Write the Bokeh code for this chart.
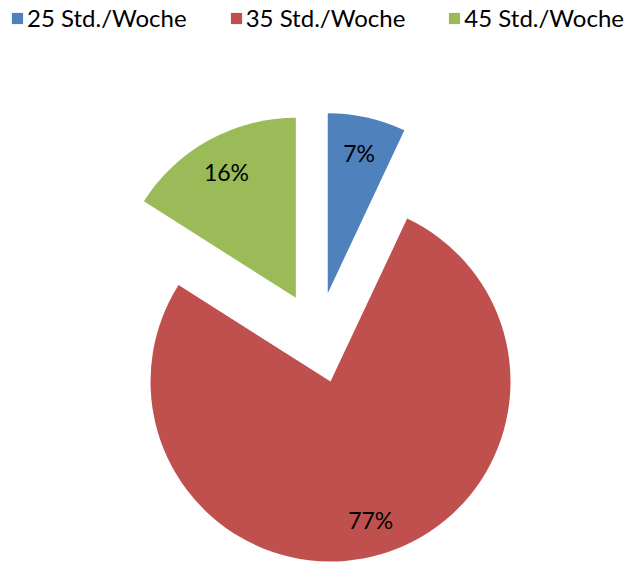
import numpy as np
from bokeh.plotting import figure
from bokeh.models import Range1d, Legend, LegendItem, ColumnDataSource
from bokeh.embed import file_html
from bokeh.resources import INLINE
from bokeh.core.properties import value

# --- data ---
categories = ["25 Std./Woche", "35 Std./Woche", "45 Std./Woche"]
shares = [7, 77, 16]
pct_labels = ["7%", "77%", "16%"]
colors = ["#4F81BD", "#C0504D", "#9BBB59"]

# --- layout ---
W, H = 635, 562
cx, cy = 317.3, H - 337.2
R = 180.0
EXPLODE = 45.6
LABEL_FRAC = 0.8
FONT = "Lato"

vals = np.array(shares, dtype=float)
frac = vals / vals.sum()
c1 = np.cumsum(frac)
c0 = c1 - frac
start = np.pi / 2 - c1 * 2 * np.pi
end = np.pi / 2 - c0 * 2 * np.pi
mid = (start + end) / 2
ox = cx + EXPLODE * np.cos(mid)
oy = cy + EXPLODE * np.sin(mid)
lx = ox + LABEL_FRAC * R * np.cos(mid)
ly = oy + LABEL_FRAC * R * np.sin(mid)

src = ColumnDataSource(dict(x=ox, y=oy, start=start, end=end, color=colors,
                            cat=categories, lx=lx, ly=ly, lab=pct_labels))

p = figure(width=W, height=H, output_backend="svg", toolbar_location=None,
           x_range=Range1d(0, W), y_range=Range1d(0, H),
           min_border=0, outline_line_color=None)
p.axis.visible = False
p.grid.visible = False
p.background_fill_color = "white"

r = p.wedge(x="x", y="y", radius=R, start_angle="start", end_angle="end",
            fill_color="color", line_color=None, source=src)
p.text(x="lx", y="ly", text="lab", source=src, text_align="center",
       text_baseline="middle", text_font=value(FONT), text_font_size="23px",
       text_color="black")

items = [LegendItem(label=c, renderers=[r], index=i) for i, c in enumerate(categories)]
legend = Legend(items=items, orientation="horizontal", location=(10, H - 32),
                glyph_width=14, glyph_height=14, label_standoff=3, spacing=42,
                padding=0, margin=0, border_line_color=None,
                background_fill_alpha=0, label_text_font=FONT,
                label_text_font_size="24px", label_text_color="black",
                label_height=20)
p.add_layout(legend, "center")

open("out.html", "w").write(file_html(p, INLINE))
